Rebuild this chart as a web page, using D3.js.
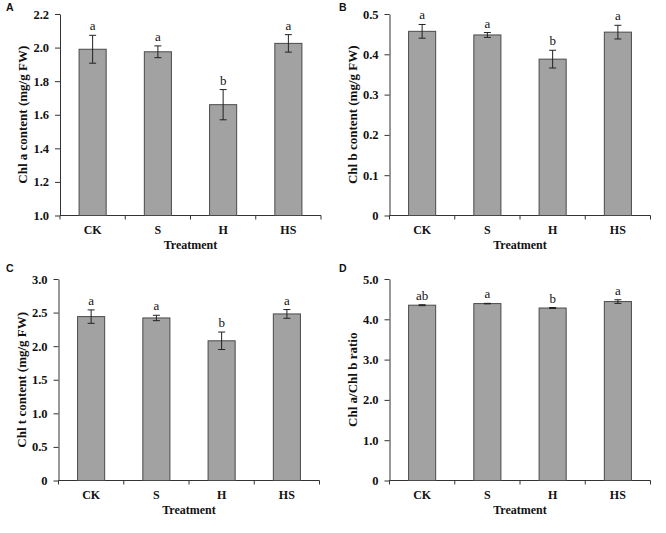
<!DOCTYPE html>
<html><head><meta charset="utf-8">
<script src="https://cdn.jsdelivr.net/npm/d3@7"></script>
<style>body{margin:0;background:#fff}svg{display:block}</style>
</head><body>
<svg id="c" width="666" height="533"></svg>
<script>
const categories = ["CK", "S", "H", "HS"];
const chlA = [1.99, 1.975, 1.66, 2.025];
const chlAErr = [0.083, 0.035, 0.09, 0.052];
const chlALetters = ["a", "a", "b", "a"];
const chlB = [0.457, 0.448, 0.388, 0.455];
const chlBErr = [0.017, 0.006, 0.022, 0.017];
const chlBLetters = ["a", "a", "b", "a"];
const chlT = [2.44, 2.42, 2.08, 2.48];
const chlTErr = [0.10, 0.04, 0.13, 0.065];
const chlTLetters = ["a", "a", "b", "a"];
const ratio = [4.35, 4.39, 4.28, 4.44];
const ratioErr = [0.012, 0.006, 0.012, 0.045];
const ratioLetters = ["ab", "a", "b", "a"];
const ticksA = [1.0, 1.2, 1.4, 1.6, 1.8, 2.0, 2.2];
const ticksB = [0, 0.1, 0.2, 0.3, 0.4, 0.5];
const ticksC = [0, 0.5, 1.0, 1.5, 2.0, 2.5, 3.0];
const ticksD = [0, 1.0, 2.0, 3.0, 4.0, 5.0];
const yLabels = ["Chl a content (mg/g FW)", "Chl b content (mg/g FW)", "Chl t content (mg/g FW)", "Chl a/Chl b ratio"];
const panelLetters = ["A", "B", "C", "D"];
const xTitle = "Treatment";

const svg = d3.select("#c");
const serif = "'Liberation Serif','Times New Roman',serif";

const panels = [
  {letter: panelLetters[0], vals: chlA, err: chlAErr, lets: chlALetters, ticks: ticksA, dom: [1.0, 2.2], ylab: yLabels[0], left: 60, top: 14, bottom: 215.5, lx: 6, ly: 11},
  {letter: panelLetters[1], vals: chlB, err: chlBErr, lets: chlBLetters, ticks: ticksB, dom: [0, 0.5], ylab: yLabels[1], left: 389.5, top: 14, bottom: 215.5, lx: 339, ly: 11},
  {letter: panelLetters[2], vals: chlT, err: chlTErr, lets: chlTLetters, ticks: ticksC, dom: [0, 3.0], ylab: yLabels[2], left: 58.5, top: 279, bottom: 480.5, lx: 6, ly: 272},
  {letter: panelLetters[3], vals: ratio, err: ratioErr, lets: ratioLetters, ticks: ticksD, dom: [0, 5.0], ylab: yLabels[3], left: 389.5, top: 279, bottom: 480.5, lx: 339, ly: 272}
];

panels.forEach(p => {
  const g = svg.append("g");
  const width = 261;
  const x = d3.scaleBand().domain(categories).range([p.left, p.left + width]).paddingInner(0.585).paddingOuter(0.2925);
  const y = d3.scaleLinear().domain(p.dom).range([p.bottom, p.top]);

  // y axis
  const yAxis = d3.axisLeft(y).tickValues(p.ticks).tickSize(5).tickPadding(6).tickSizeOuter(0)
    .tickFormat(d => d === 0 ? "0" : d3.format(".1f")(d));
  const ya = g.append("g").attr("transform", `translate(${p.left},0)`).call(yAxis);
  ya.select(".domain").attr("stroke", "#333");
  ya.selectAll(".tick line").attr("stroke", "#333");
  ya.selectAll(".tick text").attr("font-family", serif).attr("font-weight", "bold").attr("font-size", 12.5).attr("fill", "#111");

  // x axis line with boundary ticks
  const bw = width / categories.length;
  g.append("line").attr("x1", p.left).attr("x2", p.left + width).attr("y1", p.bottom).attr("y2", p.bottom).attr("stroke", "#333");
  d3.range(categories.length + 1).forEach(i => {
    g.append("line").attr("x1", p.left + i * bw).attr("x2", p.left + i * bw).attr("y1", p.bottom).attr("y2", p.bottom + 4).attr("stroke", "#333");
  });
  g.selectAll(".cl").data(categories).enter().append("text")
    .attr("x", d => x(d) + x.bandwidth() / 2).attr("y", p.bottom + 18)
    .attr("text-anchor", "middle").attr("font-family", serif).attr("font-weight", "bold").attr("font-size", 12).attr("fill", "#111")
    .text(d => d);
  g.append("text").attr("x", p.left + width / 2).attr("y", p.bottom + 33.5).attr("text-anchor", "middle")
    .attr("font-family", serif).attr("font-weight", "bold").attr("font-size", 12).attr("fill", "#111").text(xTitle);

  // bars
  g.selectAll(".bar").data(p.vals).enter().append("rect")
    .attr("x", (d, i) => x(categories[i])).attr("width", x.bandwidth())
    .attr("y", d => y(d)).attr("height", d => p.bottom - y(d))
    .attr("fill", "#a2a2a2").attr("stroke", "#4a4a4a").attr("stroke-width", 1);

  // error bars
  p.vals.forEach((v, i) => {
    const cx = x(categories[i]) + x.bandwidth() / 2;
    const hi = y(v + p.err[i]), lo = y(v - p.err[i]);
    g.append("line").attr("x1", cx).attr("x2", cx).attr("y1", hi).attr("y2", lo).attr("stroke", "#222");
    g.append("line").attr("x1", cx - 3.5).attr("x2", cx + 3.5).attr("y1", hi).attr("y2", hi).attr("stroke", "#222");
    g.append("line").attr("x1", cx - 3.5).attr("x2", cx + 3.5).attr("y1", lo).attr("y2", lo).attr("stroke", "#222");
    g.append("text").attr("x", cx).attr("y", hi - 5).attr("text-anchor", "middle")
      .attr("font-family", serif).attr("font-size", 13).attr("fill", "#111").text(p.lets[i]);
  });

  // y label
  g.append("text").attr("transform", `translate(${p.left - 33},${(p.top + p.bottom) / 2}) rotate(-90)`)
    .attr("text-anchor", "middle").attr("font-family", serif).attr("font-weight", "bold").attr("font-size", 13).attr("fill", "#111")
    .text(p.ylab);

  // panel letter
  g.append("text").attr("x", p.lx).attr("y", p.ly).attr("font-family", "'Liberation Sans',Arial,sans-serif").attr("font-weight", "bold")
    .attr("font-size", 10.5).attr("fill", "#111").text(p.letter);
});
</script>
</body></html>
